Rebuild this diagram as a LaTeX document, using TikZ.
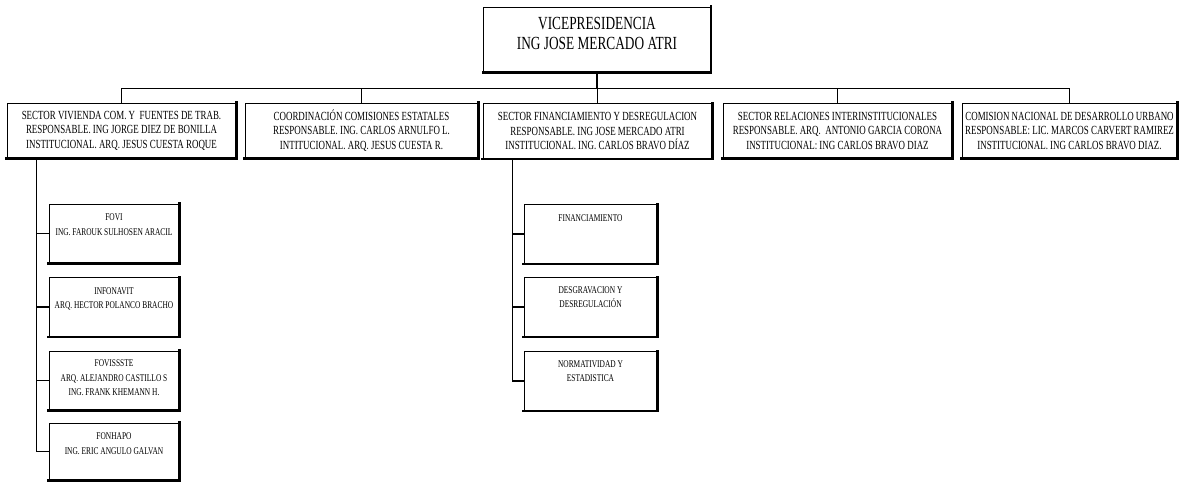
\documentclass[tikz,border=0pt]{standalone}
\usepackage{fontspec}
\setmainfont{Liberation Serif}
\newfontfamily\cond[FakeStretch=0.72]{Liberation Serif}
\begin{document}
\begin{tikzpicture}[x=1pt,y=-1pt,
  box/.style={draw, line width=1pt, rectangle, inner sep=0pt, fill=white},
  topbox/.style={box, minimum width=227pt, minimum height=65pt},
  toptxt/.style={inner sep=0pt, align=center,
     font=\cond\fontsize{18.5}{20}\selectfont},
  lvlbox/.style={box, minimum height=55pt, align=center,
     font=\cond\fontsize{12.4}{14.5}\selectfont},
  subbox/.style={box, minimum width=130pt, minimum height=59pt},
  subtxt/.style={anchor=north, inner sep=0pt, align=center,
     font=\cond\fontsize{10.3}{14.5}\selectfont},
  conn/.style={line width=1.2pt},
  shadow/.style={line width=2.6pt, line cap=rect}]
\useasboundingbox (0,0) rectangle (1183,482);
% top
\node[topbox] (vp) at (597,39.5) {};
\node[toptxt] (tvp) at ([yshift=6pt]vp.center) {VICEPRESIDENCIA\\ING JOSE MERCADO ATRI};
% level 1
\node[lvlbox, minimum width=229pt] (b1) at (121.5,130.5)
  {SECTOR VIVIENDA COM. Y\ \ FUENTES DE TRAB.\\RESPONSABLE. ING JORGE DIEZ DE BONILLA\\INSTITUCIONAL. ARQ. JESUS CUESTA ROQUE};
\node[lvlbox, minimum width=233pt] (b2) at (361.5,130.5)
  {COORDINACIÓN COMISIONES ESTATALES\\RESPONSABLE. ING. CARLOS ARNULFO L.\\INTITUCIONAL. ARQ. JESUS CUESTA R.};
\node[lvlbox, minimum width=229pt] (b3) at (597.5,131)
  {SECTOR FINANCIAMIENTO Y DESREGULACION\\RESPONSABLE. ING JOSE MERCADO ATRI\\INSTITUCIONAL. ING. CARLOS BRAVO DÍAZ};
\node[lvlbox, minimum width=229pt] (b4) at (837.5,130.5)
  {SECTOR RELACIONES INTERINSTITUCIONALES\\RESPONSABLE. ARQ.\ \ ANTONIO GARCIA CORONA\\INSTITUCIONAL: ING CARLOS BRAVO DIAZ};
\node[lvlbox, minimum width=215pt] (b5) at (1069.5,130.5)
  {COMISION NACIONAL DE DESARROLLO URBANO\\RESPONSABLE: LIC. MARCOS CARVERT RAMIREZ\\INSTITUCIONAL. ING CARLOS BRAVO DIAZ.};
% sub boxes sector vivienda
\node[subbox] (fovi) at (114,233.5) {};
\node[subbox] (infonavit) at (114,307) {};
\node[subbox] (fovissste) at (114,380.5) {};
\node[subbox, minimum height=57pt] (fonhapo) at (114,451.5) {};
\node[subtxt] (tfovi) at ([yshift=-10pt]fovi.north) {FOVI\\ING. FAROUK SULHOSEN ARACIL};
\node[subtxt] (tinfonavit) at ([yshift=-10pt]infonavit.north) {INFONAVIT\\ARQ. HECTOR POLANCO BRACHO};
\node[subtxt] (tfovissste) at ([yshift=-9pt]fovissste.north) {FOVISSSTE\\ARQ. ALEJANDRO CASTILLO S\\ING. FRANK KHEMANN H.};
\node[subtxt] (tfonhapo) at ([yshift=-10pt]fonhapo.north) {FONHAPO\\ING. ERIC ANGULO GALVAN};
% sub boxes sector financiamiento
\node[subbox, minimum width=133pt] (fin) at (590.5,234) {};
\node[subbox, minimum width=133pt] (desg) at (590.5,307) {};
\node[subbox, minimum width=133pt] (norm) at (590.5,381) {};
\node[subtxt] (tfin) at ([yshift=-10pt]fin.north) {FINANCIAMIENTO};
\node[subtxt] (tdesg) at ([yshift=-9pt]desg.north) {DESGRAVACION Y\\DESREGULACIÓN};
\node[subtxt] (tnorm) at ([yshift=-9pt]norm.north) {NORMATIVIDAD Y\\ESTADISTICA};
% shadows
\foreach \n in {vp,b1,b2,b3,b4,b5,fovi,infonavit,fovissste,fonhapo,fin,desg,norm}
  \draw[shadow] (\n.north east) -- (\n.south east) -- (\n.south west);
% connectors
\draw[conn] (vp.south) -- ++(0,16) coordinate (hub);
\draw[conn] (b1.north) |- (hub) -| (b5.north);
\foreach \n in {b2,b3,b4} \draw[conn] (\n.north) -- (\n.north |- hub);
\coordinate (s1) at ([xshift=30pt]b1.south west);
\draw[conn] (s1) |- (fonhapo.west);
\foreach \n in {fovi,infonavit,fovissste} \draw[conn] (\n.west) -- (\n.west -| s1);
\coordinate (s3) at ([xshift=30pt]b3.south west);
\draw[conn] (s3) |- (norm.west);
\foreach \n in {fin,desg} \draw[conn] (\n.west) -- (\n.west -| s3);
\end{tikzpicture}
\end{document}
